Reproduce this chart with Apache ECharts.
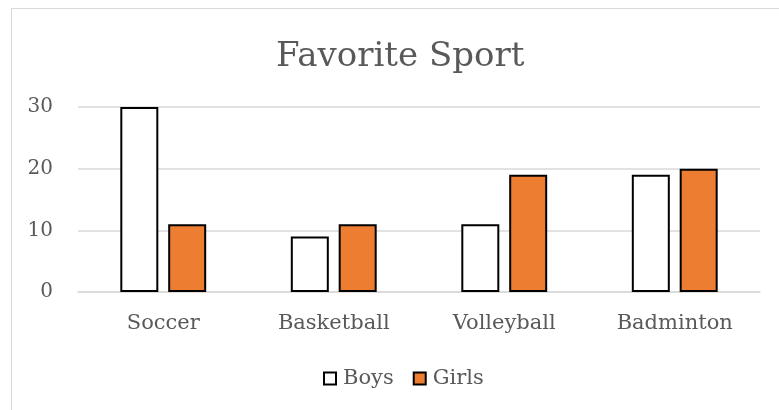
<!DOCTYPE html>
<html>
<head>
<meta charset="utf-8">
<script src="https://cdn.jsdelivr.net/npm/echarts@6/dist/echarts.min.js"></script>
<style>
	html, body { margin: 0; padding: 0; background: #fff; }
	#frame { position: absolute; left: 11px; top: 8px; width: 768px; height: 402px; border-top: 1.5px solid #d9d9d9; border-left: 1.5px solid #d9d9d9; }
	#chart { position: absolute; left: 0; top: 0; width: 779px; height: 410px; }
</style>
</head>
<body>
<div id="frame"></div>
<div id="chart"></div>
<script>
// 类别与数据
const categories = ['Soccer', 'Basketball', 'Volleyball', 'Badminton'];
const boys = [30, 9, 11, 19];
const girls = [11, 11, 19, 20];
const yTicks = [0, 10, 20, 30];

const fontName = 'DejaVu Serif';
const textColor = '#595959';

const myChart = echarts.init(document.getElementById('chart'), null, { renderer: 'canvas' });
const option = {
	backgroundColor: 'transparent',
	animation: false,
	title: {
		text: 'Favorite Sport',
		left: 271,
		top: 35,
		textStyle: { fontFamily: fontName, fontWeight: 'normal', fontSize: 34, color: textColor }
	},
	legend: {
		top: 363,
		left: 318,
		itemWidth: 12,
		itemHeight: 12,
		itemGap: 19,
		icon: 'rect',
		textStyle: { fontFamily: fontName, fontSize: 21, color: textColor, padding: [0, 0, 0, 2] },
		data: ['Boys', 'Girls']
	},
	grid: { left: 78, right: 19, top: 107, bottom: 118, containLabel: false },
	xAxis: {
		type: 'category',
		data: categories,
		axisLine: { lineStyle: { color: '#d9d9d9', width: 1.5 } },
		axisTick: { show: false },
		axisLabel: { fontFamily: fontName, fontSize: 21, color: textColor, margin: 21 }
	},
	yAxis: {
		type: 'value',
		min: yTicks[0],
		max: yTicks[yTicks.length - 1],
		interval: 10,
		axisLine: { show: false },
		axisTick: { show: false },
		splitLine: { lineStyle: { color: '#d9d9d9', width: 1.5 } },
		axisLabel: { fontFamily: fontName, fontSize: 20, color: textColor, margin: 25 }
	},
	series: [
		{
			name: 'Boys',
			type: 'bar',
			data: boys,
			barWidth: 38,
			barGap: '26%',
			itemStyle: { color: '#ffffff', borderColor: '#000000', borderWidth: 2 }
		},
		{
			name: 'Girls',
			type: 'bar',
			data: girls,
			barWidth: 38,
			itemStyle: { color: '#ED7D31', borderColor: '#000000', borderWidth: 2 }
		}
	]
};
myChart.setOption(option);
</script>
</body>
</html>
